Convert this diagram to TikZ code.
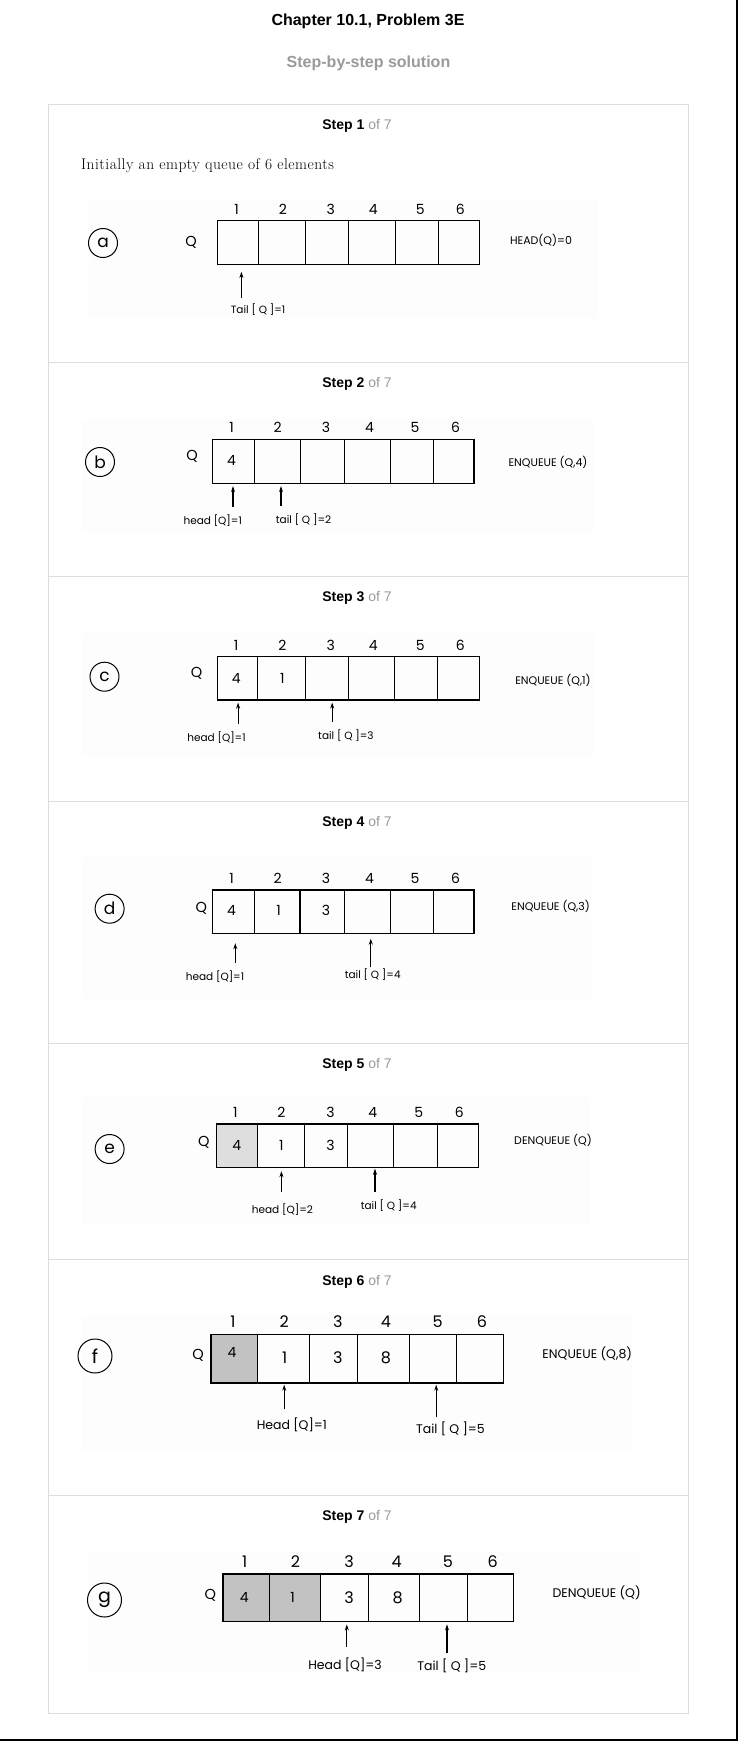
\documentclass[tikz,border=0pt]{standalone}
\usepackage{fontspec}
\usepackage{xcolor}
\usetikzlibrary{arrows.meta,positioning}
\newfontfamily\gothic{Poppins}
\newfontfamily\arial{Liberation Sans}
\newfontfamily\introfont[LetterSpace=3]{Latin Modern Roman}
\definecolor{cardgray}{HTML}{DDDDDD}
\definecolor{subgray}{HTML}{9A9A9A}
\definecolor{panelbg}{HTML}{FDFDFD}
\definecolor{cellgray}{HTML}{C2C2C2}
\definecolor{celllight}{HTML}{DEDEDE}

\begin{document}
\begin{tikzpicture}[x=1pt,y=-1pt]
	\tikzstyle{every node}=[inner sep=0pt, font=\gothic\fontsize{14}{14}\selectfont]
	\tikzstyle{idx}=[font=\gothic\fontsize{14}{14}\selectfont]
	\tikzstyle{idxbig}=[font=\gothic\fontsize{16}{16}\selectfont]
	\tikzstyle{val}=[font=\gothic\fontsize{14}{14}\selectfont]
	\tikzstyle{qlbl}=[font=\gothic\fontsize{14.5}{14.5}\selectfont]
	\tikzstyle{tag}=[circle, draw, line width=1pt, minimum size=29pt, font=\gothic\fontsize{17}{17}\selectfont]
	\tikzstyle{tagbig}=[tag, minimum size=34pt, font=\gothic\fontsize{19}{19}\selectfont]
	\tikzstyle{lbl}=[font=\gothic\fontsize{10.5}{10.5}\selectfont]
	\tikzstyle{lblbig}=[font=\gothic\fontsize{12.5}{12.5}\selectfont]
	\tikzstyle{op}=[font=\gothic\fontsize{11}{11}\selectfont]
	\tikzstyle{opbig}=[font=\gothic\fontsize{12.5}{12.5}\selectfont]
	\tikzstyle{qbox}=[draw, line width=1.4pt, anchor=north west, minimum height=43.5pt]
	\tikzstyle{wall}=[line width=1pt]
	\tikzstyle{ptr}=[line width=1.2pt, -{Stealth[length=6pt,width=4pt]}, shorten >=2pt]
	\tikzstyle{sep}=[draw=cardgray, line width=1.3pt]
	\tikzstyle{steptitle}=[font=\arial\fontsize{14}{14}\selectfont]
	\useasboundingbox (0,0) rectangle (738,1741);
	\fill [white] (0,0) rectangle (738,1741);
	\node [font=\arial\bfseries\fontsize{16}{16}\selectfont] (title) at (368,21.7) {Chapter 10.1, Problem 3E};
	\node [font=\arial\bfseries\fontsize{16}{16}\selectfont, text=subgray] (subtitle) at (368.5,63.3) {Step-by-step solution};
	\draw [sep] (48.5,104.3) rectangle (688.3,1713.3);
	\draw [sep] (48.5,362.3) -- (688.3,362.3);
	\draw [sep] (48.5,576.7) -- (688.3,576.7);
	\draw [sep] (48.5,801.7) -- (688.3,801.7);
	\draw [sep] (48.5,1043.3) -- (688.3,1043.3);
	\draw [sep] (48.5,1259.3) -- (688.3,1259.3);
	\draw [sep] (48.5,1495.7) -- (688.3,1495.7);
	\draw [line width=2pt] (736.8,0) -- (736.8,1740) -- (0,1740);
	\node [steptitle] (step1) at (357,126) {\textbf{Step 1} \textcolor{subgray}{of 7}};
	\node [steptitle] (step2) at (357,384) {\textbf{Step 2} \textcolor{subgray}{of 7}};
	\node [steptitle] (step3) at (357,598) {\textbf{Step 3} \textcolor{subgray}{of 7}};
	\node [steptitle] (step4) at (357,823.3) {\textbf{Step 4} \textcolor{subgray}{of 7}};
	\node [steptitle] (step5) at (357,1065) {\textbf{Step 5} \textcolor{subgray}{of 7}};
	\node [steptitle] (step6) at (357,1281.7) {\textbf{Step 6} \textcolor{subgray}{of 7}};
	\node [steptitle] (step7) at (357,1517.3) {\textbf{Step 7} \textcolor{subgray}{of 7}};
	\node [anchor=west, font=\introfont\fontsize{15.5}{15.5}\selectfont] (intro) at (81,165.7) {Initially an empty queue of 6 elements};
	\fill [panelbg] (89,200) rectangle (598,318);
	\node [tag] (taga) at (103,243) {a};
	\node [qlbl] (qa) at (191,242) {Q};
	\node [qbox, minimum width=262.1pt] (boxa) at (216.5,220) {};
	\draw [wall] (258.8,220) -- (258.8,263.5) (305.9,220) -- (305.9,263.5) (348.2,220) -- (348.2,263.5) (395.3,220) -- (395.3,263.5) (438.6,220) -- (438.6,263.5);
	\node [idx] (ia1) at (236.7,209) {1};
	\node [idx] (ia2) at (282.8,209) {2};
	\node [idx] (ia3) at (330.8,209) {3};
	\node [idx] (ia4) at (373.2,209) {4};
	\node [idx] (ia5) at (420.2,209) {5};
	\node [idx] (ia6) at (460.2,209) {6};
	\node [op] (opa) at (541,240.5) {HEAD(Q)=0};
	\coordinate (ta) at (241.4,298);
	\draw [ptr, shorten >=7pt] (ta) -- (ta |- boxa.south);
	\node [lbl] (tla) at (258,309.3) {Tail [ Q ]=1};
	\fill [panelbg] (82,419) rectangle (594,533);
	\node [tag] (tagb) at (100,462) {b};
	\node [qlbl] (qb) at (192,456.7) {Q};
	\node [qbox, minimum width=261.6pt, minimum height=44pt] (boxb) at (211.8,438.7) {};
	\draw [wall] (254.1,438.7) -- (254.1,482.7) (300.2,438.7) -- (300.2,482.7) (344,438.7) -- (344,482.7) (390.6,438.7) -- (390.6,482.7) (433.4,438.7) -- (433.4,482.7);
	\node [idx] (ib1) at (231.5,427.7) {1};
	\node [idx] (ib2) at (277.6,427.7) {2};
	\node [idx] (ib3) at (326.1,427.7) {3};
	\node [idx] (ib4) at (369.4,427.7) {4};
	\node [idx] (ib5) at (415.1,427.7) {5};
	\node [idx] (ib6) at (455.5,427.7) {6};
	\node [val] (vb1) at (231.5,460) {4};
	\node [op] (opb) at (548,462.7) {ENQUEUE (Q,4)};
	\coordinate (hb) at (233,506.7);
	\coordinate (tb) at (281,505.7);
	\draw [ptr] (hb) -- (hb |- boxb.south);
	\draw [ptr] (tb) -- (tb |- boxb.south);
	\node [lbl] (hlb) at (212.7,521) {head [Q]=1};
	\node [lbl] (tlb) at (303.5,519.3) {tail [ Q ]=2};
	\fill [panelbg] (82,633) rectangle (594,757);
	\node [tag] (tagc) at (104.5,676.7) {c};
	\node [qlbl] (qc) at (196.7,673.3) {Q};
	\node [qbox, minimum width=262.1pt] (boxc) at (216.5,655.7) {};
	\draw [wall] (257.9,655.7) -- (257.9,699.2) (305,655.7) -- (305,699.2) (348.2,655.7) -- (348.2,699.2) (394.4,655.7) -- (394.4,699.2) (437.6,655.7) -- (437.6,699.2);
	\node [idx] (ic1) at (236.2,645) {1};
	\node [idx] (ic2) at (282.4,645) {2};
	\node [idx] (ic3) at (330.8,645) {3};
	\node [idx] (ic4) at (373.2,645) {4};
	\node [idx] (ic5) at (420.2,645) {5};
	\node [idx] (ic6) at (460.2,645) {6};
	\node [val] (vc1) at (236.2,678.3) {4};
	\node [val] (vc2) at (282.4,678.3) {1};
	\node [op] (opc) at (553,680) {ENQUEUE (Q,1)};
	\coordinate (hc) at (238.1,724);
	\coordinate (tc) at (332.2,721.7);
	\draw [ptr] (hc) -- (hc |- boxc.south);
	\draw [ptr] (tc) -- (tc |- boxc.south);
	\node [lbl] (hlc) at (216.5,737.7) {head [Q]=1};
	\node [lbl] (tlc) at (345.9,736) {tail [ Q ]=3};
	\fill [panelbg] (82,857) rectangle (591,999);
	\node [tag] (tagd) at (109.6,908.7) {d};
	\node [qlbl] (qd) at (201.4,908.3) {Q};
	\node [qbox, minimum width=261.6pt] (boxd) at (211.8,889.3) {};
	\draw [wall] (254.1,889.3) -- (254.1,932.8) (344,889.3) -- (344,932.8) (390.6,889.3) -- (390.6,932.8) (433.4,889.3) -- (433.4,932.8);
	\draw [wall, line width=1.6pt] (300.2,889.3) -- (300.2,932.8);
	\node [idx] (id1) at (231.5,878.7) {1};
	\node [idx] (id2) at (277.6,878.7) {2};
	\node [idx] (id3) at (326.1,878.7) {3};
	\node [idx] (id4) at (369.4,878.7) {4};
	\node [idx] (id5) at (415.1,878.7) {5};
	\node [idx] (id6) at (455.5,878.7) {6};
	\node [val] (vd1) at (231.5,910) {4};
	\node [val] (vd2) at (278.6,910) {1};
	\node [val] (vd3) at (326.1,910) {3};
	\node [op] (opd) at (550.6,906.7) {ENQUEUE (Q,3)};
	\coordinate (hd) at (235.3,962.7);
	\coordinate (td) at (370.8,967.3);
	\draw [ptr, shorten >=9pt] (hd) -- (hd |- boxd.south);
	\draw [ptr, shorten >=4.5pt] (td) -- (td |- boxd.south);
	\node [lbl] (hld) at (215,976.7) {head [Q]=1};
	\node [lbl] (tld) at (372.7,975) {tail [ Q ]=4};
	\fill [panelbg] (82,1096.7) rectangle (590,1225);
	\fill [celllight] (215.5,1123.3) rectangle (257.9,1166.8);
	\node [tag] (tage) at (109.6,1149) {e};
	\node [qlbl] (qe) at (203.8,1142.7) {Q};
	\node [qbox, minimum width=262.1pt] (boxe) at (215.5,1123.3) {};
	\draw [wall] (257.9,1123.3) -- (257.9,1166.8) (304.5,1123.3) -- (304.5,1166.8) (347.3,1123.3) -- (347.3,1166.8) (393.4,1123.3) -- (393.4,1166.8) (437.2,1123.3) -- (437.2,1166.8);
	\node [idx] (ie1) at (235.3,1112.7) {1};
	\node [idx] (ie2) at (281.4,1112.7) {2};
	\node [idx] (ie3) at (330.4,1112.7) {3};
	\node [idx] (ie4) at (372.7,1112.7) {4};
	\node [idx] (ie5) at (418.8,1112.7) {5};
	\node [idx] (ie6) at (459.3,1112.7) {6};
	\node [val] (ve1) at (236.7,1145) {4};
	\node [val] (ve2) at (281.4,1145) {1};
	\node [val] (ve3) at (330.4,1145) {3};
	\node [op] (ope) at (553,1140.7) {DENQUEUE (Q)};
	\coordinate (he) at (281.4,1191.7);
	\coordinate (te) at (375,1191.7);
	\draw [ptr, shorten >=3pt] (he) -- (he |- boxe.south);
	\draw [ptr, shorten >=0.5pt] (te) -- (te |- boxe.south);
	\node [lbl] (hle) at (282.4,1209.3) {head [Q]=2};
	\node [lbl] (tle) at (388.7,1206) {tail [ Q ]=4};
	\fill [panelbg] (82,1315) rectangle (633,1451.7);
	\fill [cellgray] (210.4,1334) rectangle (257.9,1382.3);
	\node [tagbig] (tagf) at (95,1356) {f};
	\node [qlbl] (qf) at (198,1355) {Q};
	\node [qbox, minimum width=292.2pt, minimum height=48.3pt] (boxf) at (210.4,1334) {};
	\draw [wall] (257.9,1334) -- (257.9,1382.3) (309.6,1334) -- (309.6,1382.3) (357.6,1334) -- (357.6,1382.3) (409.4,1334) -- (409.4,1382.3) (456.9,1334) -- (456.9,1382.3);
	\node [idxbig] (if1) at (233,1321.7) {1};
	\node [idxbig] (if2) at (284.2,1321.7) {2};
	\node [idxbig] (if3) at (337.9,1321.7) {3};
	\node [idxbig] (if4) at (385.9,1321.7) {4};
	\node [idxbig] (if5) at (437.6,1321.7) {5};
	\node [idxbig] (if6) at (481.9,1321.7) {6};
	\node [val] (vf1) at (232,1352.7) {4};
	\node [idxbig] (vf2) at (284.7,1357.3) {1};
	\node [idxbig] (vf3) at (337.9,1357.3) {3};
	\node [idxbig] (vf4) at (385.9,1357.3) {8};
	\node [opbig] (opf) at (587.3,1354) {ENQUEUE (Q,8)};
	\coordinate (hf) at (284.2,1409.3);
	\coordinate (tf) at (436.2,1417.3);
	\draw [ptr, shorten >=1pt] (hf) -- (hf |- boxf.south);
	\draw [ptr, shorten >=1pt] (tf) -- (tf |- boxf.south);
	\node [lblbig] (hlf) at (291.8,1425) {Head [Q]=1};
	\node [lblbig] (tlf) at (450.4,1429.3) {Tail [ Q ]=5};
	\fill [panelbg] (89,1551.7) rectangle (639.3,1672.7);
	\fill [cellgray] (222.1,1573.3) rectangle (320.5,1621);
	\node [tagbig] (tagg) at (104.5,1600) {g};
	\node [qlbl] (qg) at (210.4,1595.7) {Q};
	\node [qbox, minimum width=290.8pt, minimum height=47.7pt] (boxg) at (222.1,1573.3) {};
	\draw [wall] (269.6,1573.3) -- (269.6,1621) (320.5,1573.3) -- (320.5,1621) (368.5,1573.3) -- (368.5,1621) (419.8,1573.3) -- (419.8,1621) (467.8,1573.3) -- (467.8,1621);
	\node [idxbig] (ig1) at (244.7,1561.7) {1};
	\node [idxbig] (ig2) at (295.5,1561.7) {2};
	\node [idxbig] (ig3) at (349.2,1561.7) {3};
	\node [idxbig] (ig4) at (396.7,1561.7) {4};
	\node [idxbig] (ig5) at (448,1561.7) {5};
	\node [idxbig] (ig6) at (492.7,1561.7) {6};
	\node [val] (vg1) at (244.2,1597.7) {4};
	\node [val] (vg2) at (292.7,1597.7) {1};
	\node [idxbig] (vg3) at (349.2,1597.7) {3};
	\node [idxbig] (vg4) at (397.6,1597.7) {8};
	\node [opbig] (opg) at (596.7,1592.7) {DENQUEUE (Q)};
	\coordinate (hg) at (346.8,1646.7);
	\coordinate (tg) at (447,1653.3);
	\draw [ptr] (hg) -- (hg |- boxg.south);
	\draw [ptr] (tg) -- (tg |- boxg.south);
	\node [lblbig] (hlg) at (345,1665) {Head [Q]=3};
	\node [lblbig] (tlg) at (451.8,1665.7) {Tail [ Q ]=5};
\end{tikzpicture}
\end{document}
